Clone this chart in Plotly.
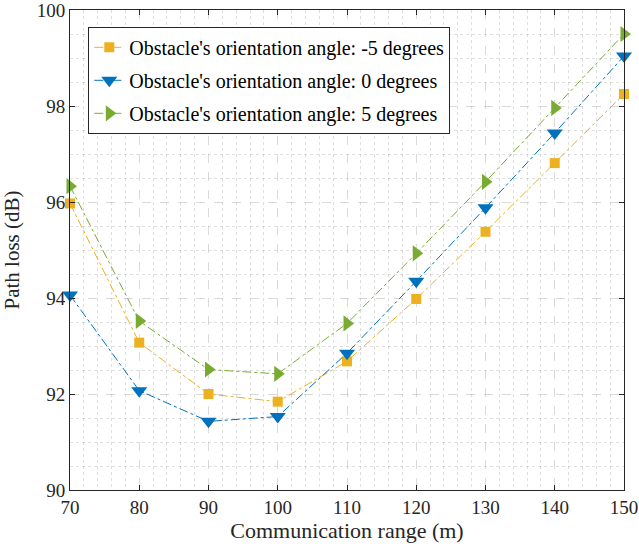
import plotly.graph_objects as go

ranges = [70, 80, 90, 100, 110, 120, 130, 140, 150]
loss_m5 = [95.97, 93.07, 92.00, 91.84, 92.68, 93.98, 95.38, 96.81, 98.25]
loss_0 = [94.06, 92.07, 91.43, 91.53, 92.85, 94.35, 95.88, 97.44, 99.04]
loss_p5 = [96.33, 93.52, 92.51, 92.42, 93.47, 94.93, 96.42, 97.96, 99.50]

names = ["Obstacle's orientation angle: -5 degrees",
         "Obstacle's orientation angle: 0 degrees",
         "Obstacle's orientation angle: 5 degrees"]
colors = ["#EDB120", "#0072BD", "#77AC30"]
symbols = ["square", "triangle-down", "triangle-right"]
sizes = [10, 14, 14]
series = [loss_m5, loss_0, loss_p5]

font_family = "Liberation Serif, Times New Roman, serif"

fig = go.Figure()
for i, (name, ys, c, s, sz) in enumerate(zip(names, series, colors, symbols, sizes)):
    fig.add_trace(go.Scatter(
        x=ranges, y=ys, name=name, mode="lines+markers",
        legendgroup=f"g{i}",
        line=dict(color=c, width=1, dash="dashdot"),
        marker=dict(symbol=s, size=sz, color=c, line=dict(width=0)),
        cliponaxis=False,
    ))

axis_common = dict(
    showline=True, linecolor="#262626", linewidth=1, mirror="ticks",
    ticks="inside", ticklen=5, tickcolor="#262626",
    showgrid=True, gridcolor="rgba(150,150,150,0.35)", griddash="dash", gridwidth=1,
    zeroline=False, automargin=False, ticklabeloverflow="allow",
    tickfont=dict(family=font_family, size=19, color="#262626"),
)

fig.update_xaxes(
    range=[70, 150], tick0=70, dtick=10,
    minor=dict(dtick=2, showgrid=True, gridcolor="rgba(150,150,150,0.3)", griddash="dot", gridwidth=1),
    title=dict(text="Communication range (m)", font=dict(family=font_family, size=22, color="#262626"), standoff=4),
    **axis_common,
)
fig.update_yaxes(
    range=[90, 100], tick0=90, dtick=2,
    minor=dict(dtick=0.5, showgrid=True, gridcolor="rgba(150,150,150,0.3)", griddash="dot", gridwidth=1),
    title=dict(text="Path loss (dB)", font=dict(family=font_family, size=21, color="#262626"), standoff=12),
    **axis_common,
)

fig.update_layout(
    width=639, height=550,
    margin=dict(l=70, r=15, t=10, b=60),
    plot_bgcolor="white", paper_bgcolor="white",
    font=dict(family=font_family, color="#262626"),
    legend=dict(
        x=0.033, y=0.965, xanchor="left", yanchor="top",
        bgcolor="white", bordercolor="#262626", borderwidth=1,
        font=dict(family=font_family, size=20, color="black"),
        itemwidth=30, tracegroupgap=4,
    ),
    showlegend=True,
)

fig.write_html(
    "out.html",
    config={"displayModeBar": False},
    post_script="document.body.style.margin='0';document.body.style.padding='0';document.body.style.overflow='hidden';",
)
